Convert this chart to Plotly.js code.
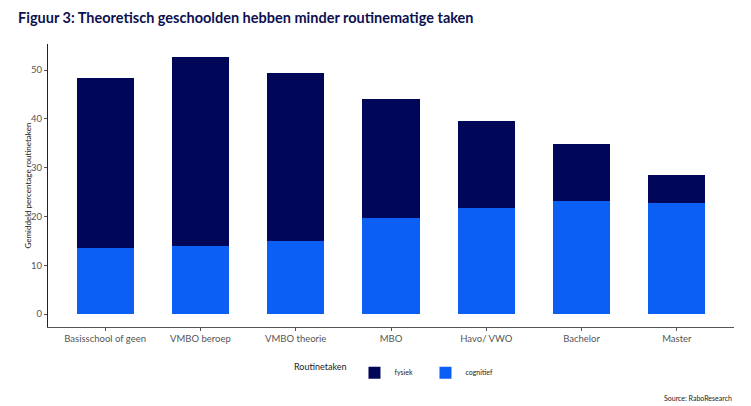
<!DOCTYPE html>
<html>
<head>
<meta charset="utf-8">
<script src="https://cdn.plot.ly/plotly-3.0.1.min.js"></script>
<style>html,body{margin:0;padding:0;background:#fff;}#chart{width:751px;height:406px;}</style>
</head>
<body>
<div id="chart"></div>
<script>
const categories = ["Basisschool of geen", "VMBO beroep", "VMBO theorie", "MBO", "Havo/ VWO", "Bachelor", "Master"];
const cognitief = [13.5, 13.9, 14.9, 19.6, 21.8, 23.1, 22.7];
const fysiek = [34.9, 38.8, 34.5, 24.5, 17.8, 11.8, 5.9];
const yTicks = [0, 10, 20, 30, 40, 50];

const font = "Lato, 'Open Sans', sans-serif";
const traces = [
  {type: "bar", name: "cognitief", x: categories, y: cognitief, marker: {color: "#0B5FF4"}, width: 0.6},
  {type: "bar", name: "fysiek", x: categories, y: fysiek, marker: {color: "#000658"}, width: 0.6}
];
const layout = {
  width: 751, height: 406,
  barmode: "stack",
  paper_bgcolor: "#fff", plot_bgcolor: "#fff",
  margin: {l: 48, r: 17, t: 44, b: 79},
  font: {family: font, color: "#4d4d4d"},
  title: {text: "<b>Figuur 3: Theoretisch geschoolden hebben minder routinematige taken</b>", x: 0.024, xanchor: "left", y: 0.955, yanchor: "middle", font: {family: font, size: 14.5, color: "#0d1150"}},
  xaxis: {type: "category", range: [-0.6, 6.6], showline: true, linecolor: "#555", linewidth: 1, ticks: "outside", ticklen: 3, tickcolor: "#555", tickfont: {size: 9.5, color: "#555"}, showgrid: false, zeroline: false, fixedrange: true},
  yaxis: {range: [-2.64, 55.34], tickvals: yTicks, ticktext: yTicks.map(String), showline: true, linecolor: "#222", linewidth: 1, ticks: "outside", ticklen: 3, tickcolor: "#555", tickfont: {size: 9.5, color: "#555"}, showgrid: false, zeroline: false},
  showlegend: true,
  legend: {orientation: "h", x: 0.505, xanchor: "center", y: -0.11, yanchor: "top", traceorder: "reversed", title: {text: "Routinetaken", side: "left", font: {size: 9, color: "#222"}}, font: {size: 7, color: "#222"}, itemwidth: 30, entrywidth: 26},
  annotations: [
    {text: "Gemiddeld percentage routinetaken", textangle: -90, xref: "paper", yref: "paper", x: -0.0306, xanchor: "center", y: 0.5, yanchor: "middle", showarrow: false, font: {size: 8, color: "#222"}},
    {text: "Source: RaboResearch", xref: "paper", yref: "paper", x: 1, xanchor: "right", y: -0.23, yanchor: "top", showarrow: false, font: {size: 7, color: "#222"}}
  ]
};
Plotly.newPlot("chart", traces, layout, {displayModeBar: false, staticPlot: true});
</script>
</body>
</html>
